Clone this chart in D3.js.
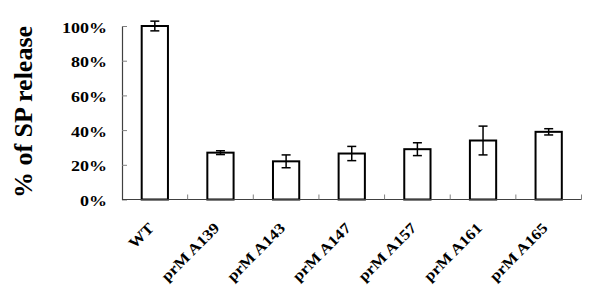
<!DOCTYPE html>
<html>
<head>
<meta charset="utf-8">
<script src="https://cdn.jsdelivr.net/npm/d3@7"></script>
<style>
  body { margin: 0; background: #fff; }
</style>
</head>
<body>
<svg width="600" height="308"></svg>
<script>
const categories = ['WT', 'prM A139', 'prM A143', 'prM A147', 'prM A157', 'prM A161', 'prM A165'];
const values = [100, 27, 22, 26.5, 29, 34, 39];
const errors = [2.8, 1.1, 3.7, 4.1, 3.7, 8.3, 1.8];
const yTicks = [0, 20, 40, 60, 80, 100];

const serif = '"Liberation Serif", "Times New Roman", serif';
const svg = d3.select('svg');

const x = d3.scaleBand()
    .domain(categories)
    .range([122, 581.5])
    .paddingInner(0.6)
    .paddingOuter(0.3);

const y = d3.scaleLinear()
    .domain([0, 100])
    .range([199.5, 26]);

// y axis
const yAxis = svg.append('g')
    .attr('transform', 'translate(122,0)')
    .call(d3.axisLeft(y)
        .tickValues(yTicks)
        .tickSize(-5)
        .tickSizeOuter(0)
        .tickPadding(15)
        .tickFormat(d => d + '%'))
    .attr('font-family', serif)
    .attr('font-size', 15);
yAxis.select('.domain').attr('stroke', '#404040').attr('stroke-width', 1.2);
yAxis.selectAll('.tick line').attr('stroke', '#808080');
yAxis.selectAll('.tick text')
    .attr('font-family', serif)
    .attr('font-weight', 'bold')
    .attr('fill', '#000')
    .attr('x', -15 / 1.2)
    .attr('dy', 6)
    .attr('transform', 'scale(1.2,1)');

// bars
svg.append('g')
    .selectAll('rect')
    .data(categories)
    .join('rect')
    .attr('x', d => x(d))
    .attr('y', (d, i) => y(values[i]))
    .attr('width', x.bandwidth())
    .attr('height', (d, i) => y(0) - y(values[i]))
    .attr('fill', '#fff')
    .attr('stroke', '#000')
    .attr('stroke-width', 2);

// error bars
const err = svg.append('g')
    .attr('stroke', '#000')
    .attr('stroke-width', 1.5)
    .selectAll('g')
    .data(categories)
    .join('g')
    .attr('transform', d => `translate(${x(d) + x.bandwidth() / 2},0)`);
err.append('line')
    .attr('y1', (d, i) => y(values[i] + errors[i]))
    .attr('y2', (d, i) => y(values[i] - errors[i]));
err.append('line')
    .attr('x1', -4.5).attr('x2', 4.5)
    .attr('y1', (d, i) => y(values[i] + errors[i]))
    .attr('y2', (d, i) => y(values[i] + errors[i]));
err.append('line')
    .attr('x1', -4.5).attr('x2', 4.5)
    .attr('y1', (d, i) => y(values[i] - errors[i]))
    .attr('y2', (d, i) => y(values[i] - errors[i]));

// x axis: baseline and category boundary ticks
const [x0, x1] = x.range();
svg.append('line')
    .attr('x1', x0).attr('x2', x1)
    .attr('y1', y(0)).attr('y2', y(0))
    .attr('stroke', '#404040')
    .attr('stroke-width', 1.2);
svg.append('g')
    .selectAll('line')
    .data(d3.range(1, categories.length + 1))
    .join('line')
    .attr('x1', i => x0 + i * x.step())
    .attr('x2', i => x0 + i * x.step())
    .attr('y1', y(0))
    .attr('y2', y(0) - 5)
    .attr('stroke', '#808080');

// rotated category labels
svg.append('g')
    .selectAll('text')
    .data(categories)
    .join('text')
    .attr('transform', d => `translate(${x(d) + x.bandwidth() / 2},229) rotate(-45) scale(1.15,1)`)
    .attr('text-anchor', 'end')
    .attr('font-family', serif)
    .attr('font-weight', 'bold')
    .attr('font-size', 15)
    .text(d => d);

// y axis title
svg.append('text')
    .attr('transform', 'translate(32,112) rotate(-90)')
    .attr('text-anchor', 'middle')
    .attr('font-family', serif)
    .attr('font-weight', 'bold')
    .attr('font-size', 26)
    .text('% of SP release');
</script>
</body>
</html>
